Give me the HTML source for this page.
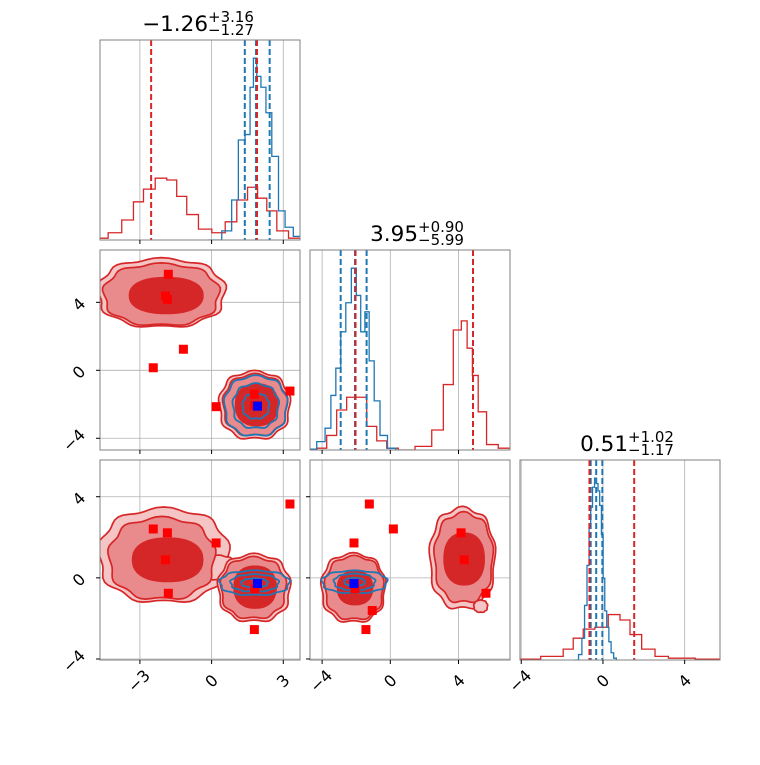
<!DOCTYPE html>
<html><head><meta charset="utf-8"><style>
html,body{margin:0;padding:0;background:#fff;}
svg text{font-family:"DejaVu Sans","Liberation Sans",sans-serif;fill:#000;}
</style></head><body>
<svg id="chart" width="760" height="760" viewBox="0 0 760 760" xmlns="http://www.w3.org/2000/svg"></svg>
<script>
// ---------- data ----------
const h0RedX=[-4.62,-4.04,-3.48,-3.06,-2.64,-2.08,-1.67,-1.25,-0.83,-0.27,0.29,0.85,1.26,1.75,2.1,2.52,2.94,3.5];
const h0RedY=[1,4,11,21,28,34,33,24,14,6,4,10,22,29,23,16,5,1];
const h0BlueX=[0.15,0.7,0.98,1.26,1.54,1.68,1.82,1.96,2.17,2.38,2.66,2.94,3.21,3.63];
const h0BlueY=[0,5,22,55,58,84,100,90,84,70,46,16,7,2];
const h1RedX=[-4.02,-3.44,-2.85,-2.27,-1.68,-1.09,-0.5,0.08,0.86,2.04,2.82,3.4,3.99,4.34,4.67,4.96,5.35,5.94,6.72];
const h1RedY=[1,8,22,29,29,13,5,1,0,2,11,36,66,71,56,41,21,3,1];
const h1BlueX=[-4.61,-4.02,-3.63,-3.34,-3.05,-2.76,-2.46,-2.11,-1.88,-1.59,-1.39,-1.09,-0.8,-0.41,0.08];
const h1BlueY=[0.5,4.6,12,30,45,65,81,100,85,65,76,49,27,8,1];
const h2RedX=[-3.9,-2.19,-1.7,-1.21,-0.72,-0.07,0.59,1.08,1.57,2.22,2.88,3.53,5.5];
const h2RedY=[0.5,2,6,12,17,18,25,22,14,6,2,1,0.5];
const h2BlueX=[-1.29,-1.1,-0.96,-0.84,-0.72,-0.64,-0.56,-0.46,-0.36,-0.28,-0.2,-0.12,-0.03,0.05,0.13,0.24,0.34,0.46,0.59];
const h2BlueY=[0,3,12,30,52,75,84,95,100,97,93,85,69,45,27,18,10,4,1];
const q0Red=[-2.53,1.90], q0Blue=[1.39,1.86,2.43];
const q1Red=[-2.04,4.85], q1Blue=[-2.91,-2.07,-1.39];
const q2Red=[-0.66,1.53], q2Blue=[-0.6,-0.33,-0.03];
const titleMain=["\u22121.26","3.95","0.51"];
const titleSup=["+3.16","+0.90","+1.02"];
const titleSub=["\u22121.27","\u22125.99","\u22121.17"];
const xTicks=[[-3,0,3],[-4,0,4],[-4,0,4]];
const xTickLabels=[["\u22123","0","3"],["\u22124","0","4"],["\u22124","0","4"]];
const yTicks=[[-4,0,4],[-4,0,4]];
const yTickLabels=[["\u22124","0","4"],["\u22124","0","4"]];
// blobs: [cx,cy,rx,ry] in data units, per level
const b10Outer=[[-2.1,4.55,2.65,2.0],[1.8,-2.06,1.47,1.98]];
const b10Mid=[[-2.1,4.45,2.4,1.8],[1.82,-2.05,1.33,1.8]];
const b10Core=[[-1.9,4.4,1.57,1.1],[1.89,-2.03,0.92,1.27]];
const b10Blue=[[1.85,-2.1,1.3,1.75],[1.85,-2.1,0.95,1.3],[1.85,-2.1,0.55,0.75]];
const b20Outer=[[-2.0,1.1,2.7,2.3],[0.3,0.5,0.7,0.6],[1.78,-0.5,1.5,1.65]];
const b20Mid=[[-2.08,0.95,2.2,2.0],[1.75,-0.5,1.35,1.5]];
const b20Core=[[-1.84,0.89,1.5,1.11],[1.82,-0.46,0.91,1.07]];
const b20Blue=[[1.8,-0.25,1.45,0.6],[1.8,-0.25,1.0,0.42],[1.8,-0.25,0.55,0.22]];
const b21Outer=[[-2.17,-0.5,1.86,1.68],[4.23,0.95,1.9,2.48],[5.3,-1.4,0.4,0.3]];
const b21Mid=[[-2.12,-0.5,1.7,1.55],[4.3,0.98,1.7,2.2]];
const b21Core=[[-2.07,-0.5,1.07,0.86],[4.33,0.93,1.22,1.31]];
const b21Blue=[[-2.1,-0.2,1.9,0.55],[-2.1,-0.2,1.2,0.4],[-2.1,-0.2,0.6,0.2]];
// markers
const m10RedX=[-1.81,-1.93,-1.85,-1.18,-2.44,0.19,1.79,3.28,1.81];
const m10RedY=[5.65,4.37,4.17,1.24,0.15,-2.14,-1.41,-1.22,-2.07];
const m10Blue=[1.92,-2.11];
const m20RedX=[-2.44,-1.85,-1.93,-1.81,0.19,1.81,1.79,3.28];
const m20RedY=[2.41,2.22,0.89,-0.76,1.72,-0.54,-2.55,3.64];
const m20Blue=[1.92,-0.28];
const m21RedX=[-1.23,0.18,-2.13,4.15,4.34,5.61,-2.07,-1.06,-1.43];
const m21RedY=[3.64,2.41,1.72,2.22,0.89,-0.76,-0.54,-1.61,-2.55];
const m21Blue=[-2.13,-0.28];

// ---------- axes ----------
const AX=[{v0:-4.67,v1:3.70,p0:100,p1:300},{v0:-4.71,v1:7.02,p0:310,p1:510},{v0:-4.06,v1:5.73,p0:520,p1:720}];
const AY=[null,{v0:-4.69,v1:7.08,p0:450,p1:250},{v0:-4.05,v1:5.81,p0:660,p1:460}];
const TOPS=[40,250,460];
function sc(a,v){return a.p0+(v-a.v0)/(a.v1-a.v0)*(a.p1-a.p0);}
const RED="#d62728",BLUE="#1f77b4";
const svg=document.getElementById('chart');
const NS="http://www.w3.org/2000/svg";
function mk(tag,attrs,parent){const e=document.createElementNS(NS,tag);for(const k in attrs)e.setAttribute(k,attrs[k]);(parent||svg).appendChild(e);return e;}

const defs=mk('defs',{});
for(let i=0;i<3;i++)for(let j=0;j<=i;j++){
  const cp=mk('clipPath',{id:'c'+i+j},defs);
  mk('rect',{x:AX[j].p0,y:TOPS[i],width:200,height:200},cp);
}

function panelGroup(i,j,name){
  const g=mk('g',{'clip-path':'url(#c'+i+j+')'});
  
  
  return g;
}
function grid(i,j,g){
  const x0=AX[j].p0,y0=TOPS[i];
  xTicks[j].forEach(t=>{const x=sc(AX[j],t);const l=mk('line',{x1:x,x2:x,y1:y0,y2:y0+200,stroke:'#b0b0b0','stroke-width':0.8},g);
    });
  if(i!==j){yTicks[i-1].forEach(t=>{const y=sc(AY[i],t);const l=mk('line',{x1:x0,x2:x0+200,y1:y,y2:y,stroke:'#b0b0b0','stroke-width':0.8},g);
    });}
}
function stepPath(a,bottom,xs,ys){
  let d='';const n=xs.length;
  const e=[];e.push(xs[0]-(xs[1]-xs[0])/2);
  for(let k=1;k<n;k++)e.push((xs[k-1]+xs[k])/2);
  e.push(xs[n-1]+(xs[n-1]-xs[n-2])/2);
  d='M'+sc(a,e[0])+','+bottom;
  for(let k=0;k<n;k++){const y=bottom-ys[k]/110*200;d+=' L'+sc(a,e[k])+','+y+' L'+sc(a,e[k+1])+','+y;}
  d+=' L'+sc(a,e[n])+','+bottom;
  return d;
}
function diag(i,rx,ry,bx,by,qr,qb){
  const g=panelGroup(i,i,'histogram-panel-'+i);
  grid(i,i,g);
  const bottom=TOPS[i]+200,a=AX[i];
  const pr=mk('path',{d:stepPath(a,bottom,rx,ry),fill:'none',stroke:RED,'stroke-width':1.3},g);
  
  const pb=mk('path',{d:stepPath(a,bottom,bx,by),fill:'none',stroke:BLUE,'stroke-width':1.3},g);
  
  qb.forEach(q=>{const x=sc(a,q);const l=mk('line',{x1:x,x2:x,y1:TOPS[i],y2:bottom,stroke:BLUE,'stroke-width':2,'stroke-dasharray':'6,3'},g);
    });
  qr.forEach(q=>{const x=sc(a,q);const l=mk('line',{x1:x,x2:x,y1:TOPS[i],y2:bottom,stroke:RED,'stroke-width':2,'stroke-dasharray':'6,3'},g);
    });
  const cx=a.p0+108;
  const t=mk('text',{x:cx,y:TOPS[i]-9,'font-size':21.5,'text-anchor':'end'});t.textContent=titleMain[i];
  
  const s1=mk('text',{x:cx,y:TOPS[i]-18,'font-size':15});s1.textContent=titleSup[i];
  
  const s2=mk('text',{x:cx,y:TOPS[i]-5,'font-size':15});s2.textContent=titleSub[i];
  
}
function blobPath(ax,ay,b,wob){
  const [cx,cy,rx,ry]=b;let d='';const n=2.3;
  for(let k=0;k<=72;k++){const t=k/72*2*Math.PI;const c=Math.cos(t),s=Math.sin(t);
    const w=1+(wob?0.04*Math.sin(9*t):0);
    const x=sc(ax,cx+rx*w*Math.sign(c)*Math.pow(Math.abs(c),2/n));
    const y=sc(ay,cy+ry*w*Math.sign(s)*Math.pow(Math.abs(s),2/n));
    d+=(k?' L':'M')+x.toFixed(1)+','+y.toFixed(1);}
  return d+'Z';
}
function twoD(i,j,outer,mid,core,blue,mrx,mry,mb){
  const g=panelGroup(i,j,'contour-panel-'+i+'-'+j);
  grid(i,j,g);
  const ax=AX[j],ay=AY[i];
  outer.forEach(b=>{const p=mk('path',{d:blobPath(ax,ay,b,true),fill:'#f5c4c4',stroke:RED,'stroke-width':1.7},g);
    });
  mid.forEach(b=>{const p=mk('path',{d:blobPath(ax,ay,b,true),fill:'#e98b8d',stroke:RED,'stroke-width':1.7},g);
    });
  core.forEach(b=>{const p=mk('path',{d:blobPath(ax,ay,b,false),fill:RED,stroke:'none'},g);
    });
  blue.forEach(b=>{const p=mk('path',{d:blobPath(ax,ay,b,true),fill:'none',stroke:BLUE,'stroke-width':1.8},g);
    });
  mrx.forEach((v,k)=>{const x=sc(ax,v),y=sc(ay,mry[k]);const r=mk('rect',{x:x-4.5,y:y-4.5,width:9,height:9,fill:'#ff0000'},g);
    });
  const x=sc(ax,mb[0]),y=sc(ay,mb[1]);const r=mk('rect',{x:x-4.5,y:y-4.5,width:9,height:9,fill:'#0000ff'},g);
  
}
diag(0,h0RedX,h0RedY,h0BlueX,h0BlueY,q0Red,q0Blue);
diag(1,h1RedX,h1RedY,h1BlueX,h1BlueY,q1Red,q1Blue);
diag(2,h2RedX,h2RedY,h2BlueX,h2BlueY,q2Red,q2Blue);
twoD(1,0,b10Outer,b10Mid,b10Core,b10Blue,m10RedX,m10RedY,m10Blue);
twoD(2,0,b20Outer,b20Mid,b20Core,b20Blue,m20RedX,m20RedY,m20Blue);
twoD(2,1,b21Outer,b21Mid,b21Core,b21Blue,m21RedX,m21RedY,m21Blue);

for(let i=0;i<3;i++)for(let j=0;j<=i;j++){
  const x0=AX[j].p0,y0=TOPS[i];
  const f=mk('rect',{x:x0,y:y0,width:200,height:200,fill:'none',stroke:'#808080','stroke-width':1});
  
  xTicks[j].forEach((t,k)=>{const x=sc(AX[j],t);
    const l=mk('line',{x1:x,x2:x,y1:y0+200,y2:y0+204,stroke:'#000','stroke-width':1});
    
    if(i===2){const lab=xTickLabels[j][k];const cx=x-(lab.length>1?1:0);
      const tx=mk('text',{x:cx,y:681,'font-size':16,'text-anchor':'middle','dominant-baseline':'central',transform:'rotate(-45 '+cx+' 681)'});
      tx.textContent=lab;}
  });
  if(i!==j){yTicks[i-1].forEach((t,k)=>{const y=sc(AY[i],t);
    const l=mk('line',{x1:x0-4,x2:x0,y1:y,y2:y,stroke:'#000','stroke-width':1});
    
    if(j===0){const lab=yTickLabels[i-1][k];const cx=lab.length>1?74:79;const cy=y+2;
      const tx=mk('text',{x:cx,y:cy,'font-size':16,'text-anchor':'middle','dominant-baseline':'central',transform:'rotate(-45 '+cx+' '+cy+')'});
      tx.textContent=lab;}
  });}
}
</script>
</body></html>
